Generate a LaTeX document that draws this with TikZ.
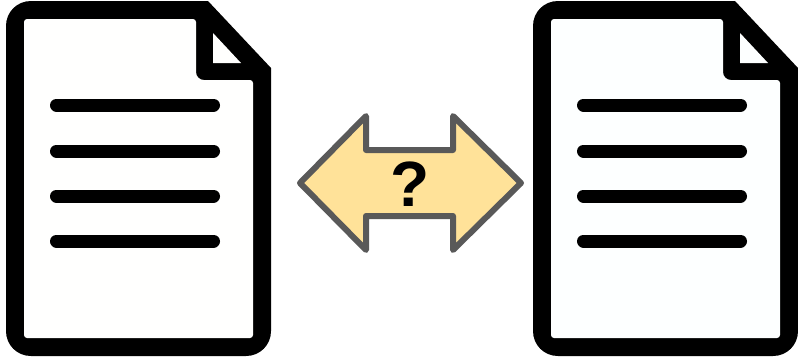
\documentclass[tikz,border=0pt]{standalone}
\usepackage{fontspec}
\setmainfont{Liberation Sans}
\definecolor{arrowfill}{HTML}{FFE299}
\definecolor{arrowline}{HTML}{595959}
\definecolor{pageA}{HTML}{FFFFFE}
\definecolor{pageB}{HTML}{FDFFFF}
\tikzset{
  textline/.style={line width=13pt,line cap=round,black},
  pics/docicon/.style={code={
    \fill[black] (6,26) .. controls (6,12) and (17,1) .. (31,1) -- (208,1) -- (271,68) -- (271,331) .. controls (271,345) and (260,356) .. (246,356) -- (31,356) .. controls (17,356) and (6,345) .. (6,331) -- cycle;
    \fill[#1,rounded corners=3pt] (24,338) -- (24,19) -- (196,19) [rounded corners=8pt] -- (196,80) [rounded corners=3pt] -- (253,80) -- (253,338) -- cycle;
    \fill[#1] (213,33) -- (241,63) -- (213,63) -- cycle;
    \foreach \yy in {105,151,196,241} \draw[textline] (56.5,\yy) -- (213.5,\yy);
  }}
}
\begin{document}
\begin{tikzpicture}[x=1pt,y=-1pt]
\useasboundingbox (0,0) rectangle (798,360);
\pic at (0,0) {docicon=pageA};
\pic at (527,0) {docicon=pageB};
\draw[fill=arrowfill,draw=arrowline,line width=6pt,line join=round]
  (300,183) -- (366,116) -- (366,150) -- (453,150) -- (453,116) -- (521,183) -- (453,250) -- (453,216) -- (366,216) -- (366,250) -- cycle;
\node[font=\fontsize{64pt}{64pt}\selectfont\bfseries,inner sep=0pt,anchor=center] (q) at (410,184) {?};
\end{tikzpicture}
\end{document}
